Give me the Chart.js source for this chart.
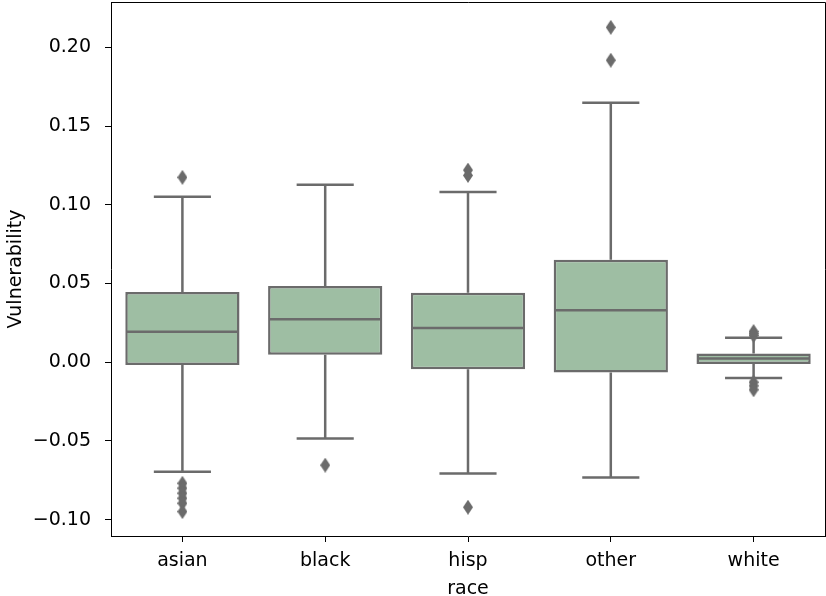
<!DOCTYPE html>
<html>
<head>
<meta charset="utf-8">
<script src="https://cdn.jsdelivr.net/npm/chart.js@4/dist/chart.umd.min.js"></script>
<style>
  html, body { margin: 0; padding: 0; background: #ffffff; }
  #wrap { width: 826px; height: 596px; position: relative; }
</style>
</head>
<body>
<div id="wrap"><canvas id="chart" width="826" height="596"></canvas></div>
<script>
// Vulnerability by race: quartiles, whiskers and outliers
const categories = ['asian', 'black', 'hisp', 'other', 'white'];
const q1 = [-0.0017, 0.0048, -0.0045, -0.0065, -0.0011];
const medians = [0.0194, 0.0273, 0.0218, 0.0330, 0.0024];
const q3 = [0.0447, 0.0485, 0.0441, 0.0651, 0.0055];
const whiskerLow = [-0.0695, -0.0485, -0.0707, -0.0733, -0.0100];
const whiskerHigh = [0.1052, 0.1128, 0.1081, 0.1649, 0.0156];
const outlierRace = ['asian', 'asian', 'asian', 'asian', 'asian', 'asian', 'asian',
  'black', 'hisp', 'hisp', 'hisp', 'other', 'other',
  'white', 'white', 'white', 'white', 'white', 'white'];
const outlierValue = [0.1175, -0.0769, -0.0800, -0.0832, -0.0864, -0.0896, -0.0949,
  -0.0654, 0.1221, 0.1187, -0.0921, 0.2128, 0.1919,
  0.0195, 0.0182, 0.0170, -0.0127, -0.0150, -0.0175];
const yTicks = [-0.10, -0.05, 0.00, 0.05, 0.10, 0.15, 0.20];

const BOX_FILL = '#9ebea3';
const LINE = '#6b6b6b';
const FONT = 'DejaVu Sans';
const FONT_SIZE = 19;
const LINE_W = 2.5;

// thin diamond used for the outlier markers
function thinDiamond(w, h, color) {
  const c = document.createElement('canvas');
  c.width = w; c.height = h;
  const g = c.getContext('2d');
  g.fillStyle = color;
  g.beginPath();
  g.moveTo(w / 2, 0);
  g.lineTo(w, h / 2);
  g.lineTo(w / 2, h);
  g.lineTo(0, h / 2);
  g.closePath();
  g.fill();
  return c;
}
const diamond = thinDiamond(10, 15, LINE);

// whiskers, caps and median lines, placed with the chart's own scales
const boxParts = {
  id: 'boxParts',
  afterDatasetsDraw(chart) {
    const ctx = chart.ctx;
    const xs = chart.scales.x, ys = chart.scales.y;
    const bars = chart.getDatasetMeta(0).data;
    ctx.save();
    ctx.strokeStyle = LINE;
    ctx.lineWidth = LINE_W;
    ctx.lineCap = 'butt';
    categories.forEach((c, i) => {
      const x = xs.getPixelForValue(i);
      const bw = bars[i].width;
      const cap = bw / 4;
      const yq1 = ys.getPixelForValue(q1[i]);
      const yq3 = ys.getPixelForValue(q3[i]);
      const ylo = ys.getPixelForValue(whiskerLow[i]);
      const yhi = ys.getPixelForValue(whiskerHigh[i]);
      const ymed = ys.getPixelForValue(medians[i]);
      ctx.beginPath();
      ctx.moveTo(x, yq3); ctx.lineTo(x, yhi);
      ctx.moveTo(x - cap, yhi); ctx.lineTo(x + cap, yhi);
      ctx.moveTo(x, yq1); ctx.lineTo(x, ylo);
      ctx.moveTo(x - cap, ylo); ctx.lineTo(x + cap, ylo);
      ctx.moveTo(x - bw / 2 + 1, ymed); ctx.lineTo(x + bw / 2 - 1, ymed);
      ctx.stroke();
    });
    ctx.restore();
  }
};

// top and right spines of the frame
const frame = {
  id: 'frame',
  afterDraw(chart) {
    const a = chart.chartArea;
    const ctx = chart.ctx;
    ctx.save();
    ctx.strokeStyle = '#000000';
    ctx.lineWidth = 1;
    ctx.beginPath();
    ctx.moveTo(a.left, a.top + 0.5); ctx.lineTo(a.right + 0.5, a.top + 0.5);
    ctx.lineTo(a.right + 0.5, a.bottom);
    ctx.stroke();
    ctx.restore();
  }
};

new Chart(document.getElementById('chart'), {
  data: {
    labels: categories,
    datasets: [
      {
        type: 'bar',
        data: categories.map((c, i) => [q1[i], q3[i]]),
        backgroundColor: BOX_FILL,
        borderColor: LINE,
        borderWidth: LINE_W,
        borderSkipped: false,
        barPercentage: 0.8,
        categoryPercentage: 1.0,
        order: 2
      },
      {
        type: 'scatter',
        data: outlierRace.map((r, i) => ({ x: r, y: outlierValue[i] })),
        pointStyle: diamond,
        pointRadius: 7,
        order: 1
      }
    ]
  },
  options: {
    responsive: false,
    animation: false,
    events: [],
    layout: { autoPadding: false, padding: { left: 0, right: 1, top: 2, bottom: 0 } },
    plugins: { legend: { display: false }, tooltip: { enabled: false } },
    scales: {
      x: {
        type: 'category',
        offset: true,
        grid: { display: true, drawOnChartArea: false, drawTicks: true, tickLength: 6, tickColor: '#000', offset: false },
        border: { display: true, color: '#000', width: 1 },
        ticks: { color: '#000', font: { family: FONT, size: FONT_SIZE }, padding: 8, maxRotation: 0 },
        title: { display: true, text: 'race', color: '#000', font: { family: FONT, size: FONT_SIZE }, padding: { top: 2, bottom: -4 } },
        afterFit(scale) {
          scale.height = 60;
          scale.paddingLeft = 0;
          scale.paddingRight = 0;
        }
      },
      y: {
        type: 'linear',
        min: -0.1104,
        max: 0.2289,
        afterBuildTicks(axis) { axis.ticks = yTicks.map(v => ({ value: v })); },
        grid: { display: true, drawOnChartArea: false, drawTicks: true, tickLength: 6, tickColor: '#000' },
        border: { display: true, color: '#000', width: 1 },
        ticks: {
          color: '#000',
          font: { family: FONT, size: FONT_SIZE },
          padding: 14,
          callback: v => (v < 0 ? '\u2212' : '') + Math.abs(v).toFixed(2)
        },
        title: { display: true, text: 'Vulnerability', color: '#000', font: { family: FONT, size: FONT_SIZE }, padding: { top: 5, bottom: 0 } },
        afterFit(scale) {
          scale.width = 111;
          scale.paddingTop = 0;
          scale.paddingBottom = 0;
        }
      }
    }
  },
  plugins: [boxParts, frame]
});
</script>
</body>
</html>
